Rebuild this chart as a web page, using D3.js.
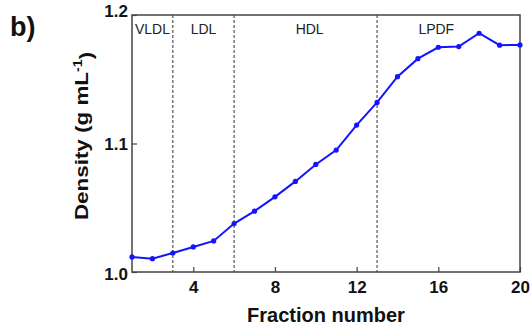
<!DOCTYPE html>
<html>
<head>
<meta charset="utf-8">
<script src="https://cdn.jsdelivr.net/npm/d3@7"></script>
<style>
  body { margin: 0; background: #fff; }
  text { font-family: "Liberation Sans", Arial, sans-serif; }
</style>
</head>
<body>
<div class="chart"></div>
<script>
// data
var fractions = [1, 2, 3, 4, 5, 6, 7, 8, 9, 10, 11, 12, 13, 14, 15, 16, 17, 18, 19, 20];
var density = [1.0117, 1.0104, 1.0148, 1.0195, 1.0242, 1.0377, 1.0473, 1.0585, 1.0705, 1.0837,
               1.0949, 1.1143, 1.1320, 1.1520, 1.1660, 1.1749, 1.1754, 1.1858, 1.1765, 1.1767];
var xTicks = [4, 8, 12, 16, 20];
var yTicks = [1.0, 1.1, 1.2];
var boundaries = [3, 6, 13];
var regionNames = ["VLDL", "LDL", "HDL", "LPDF"];
var regionPos = [2, 4.5, 9.7, 15.9];

var svgWidth = 532, svgHeight = 331;
var margin = { top: 15, right: 12, bottom: 59, left: 132 };
var width = svgWidth - margin.left - margin.right;
var height = svgHeight - margin.top - margin.bottom;

var svg = d3.select(".chart")
  .append("svg")
  .attr("width", svgWidth)
  .attr("height", svgHeight);

var chartGroup = svg.append("g")
  .attr("transform", `translate(${margin.left}, ${margin.top})`);

var xScale = d3.scaleLinear().domain([1, 20]).range([0, width]);
var yScale = d3.scaleLinear().domain([1.0, 1.2]).range([height, 0]);

// axes, ticks pointing inward
var xAxis = d3.axisBottom(xScale).tickValues(xTicks).tickSize(-5).tickPadding(9);
var yAxis = d3.axisLeft(yScale).tickValues(yTicks).tickSize(-5).tickPadding(4)
  .tickFormat(d3.format(".1f"));

var gx = chartGroup.append("g")
  .attr("transform", `translate(0, ${height})`)
  .call(xAxis);
var gy = chartGroup.append("g").call(yAxis);

[gx, gy].forEach(g => {
  g.select(".domain").remove();
  g.selectAll("line").attr("stroke", "#444").attr("stroke-width", 1.2);
  g.selectAll("text")
    .attr("fill", "#111")
    .style("font-size", "17px")
    .style("font-weight", "bold");
});
gy.selectAll("text").attr("dy", "0.35em");
gy.selectAll(".tick").filter(d => d === 1.2).select("text").attr("dy", "0.1em");
gy.selectAll(".tick").filter(d => d === 1.0).select("text").attr("dy", "0.45em");

// dashed region boundaries
chartGroup.selectAll(".bound")
  .data(boundaries)
  .enter()
  .append("line")
  .attr("x1", d => xScale(d))
  .attr("x2", d => xScale(d))
  .attr("y1", 0)
  .attr("y2", height)
  .attr("stroke", "#555")
  .attr("stroke-width", 1.2)
  .attr("stroke-dasharray", "3,2");

// region labels
chartGroup.selectAll(".region")
  .data(regionNames)
  .enter()
  .append("text")
  .attr("x", (d, i) => xScale(regionPos[i]))
  .attr("y", 19)
  .attr("text-anchor", "middle")
  .attr("fill", "#222")
  .style("font-size", "14px")
  .text(d => d);

// frame
chartGroup.append("rect")
  .attr("width", width)
  .attr("height", height)
  .attr("fill", "none")
  .attr("stroke", "#444")
  .attr("stroke-width", 1.5);

// line + points
var line = d3.line()
  .x((d, i) => xScale(fractions[i]))
  .y(d => yScale(d));

chartGroup.append("path")
  .datum(density)
  .attr("d", line)
  .attr("fill", "none")
  .attr("stroke", "#1414ff")
  .attr("stroke-width", 2);

chartGroup.selectAll("circle")
  .data(density)
  .enter()
  .append("circle")
  .attr("cx", (d, i) => xScale(fractions[i]))
  .attr("cy", d => yScale(d))
  .attr("r", 2.6)
  .attr("fill", "#1414ff");

// axis titles
svg.append("text")
  .attr("x", margin.left + width / 2)
  .attr("y", 322)
  .attr("text-anchor", "middle")
  .attr("fill", "#111")
  .style("font-size", "20px")
  .style("font-weight", "bold")
  .text("Fraction number");

var yLabel = svg.append("text")
  .attr("transform", "translate(88, 136) rotate(-90) scale(1.18, 1)")
  .attr("text-anchor", "middle")
  .attr("fill", "#111")
  .style("font-size", "19px")
  .style("font-weight", "bold");
yLabel.append("tspan").text("Density (g mL");
yLabel.append("tspan").attr("dy", "-0.5em").style("font-size", "12px").text("-1");
yLabel.append("tspan").attr("dy", "0.5em").text(")");

// panel label
svg.append("text")
  .attr("x", 10)
  .attr("y", 36)
  .attr("fill", "#111")
  .style("font-size", "27px")
  .style("font-weight", "bold")
  .text("b)");
</script>
</body>
</html>
